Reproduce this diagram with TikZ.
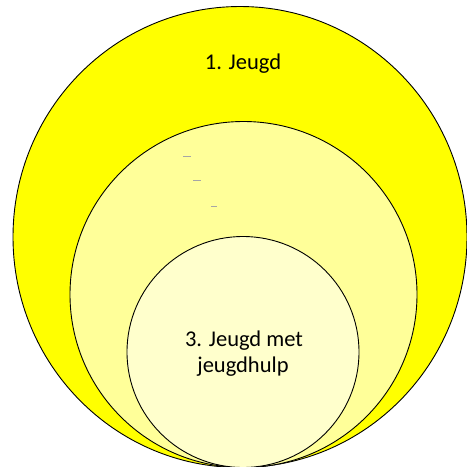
\documentclass[tikz,border=0pt]{standalone}
\usepackage{fontspec}
\setmainfont{Carlito}
\definecolor{outerY}{HTML}{FFFF00}
\definecolor{midY}{HTML}{FFFF99}
\definecolor{innerY}{HTML}{FFFFCC}
\begin{document}
\begin{tikzpicture}[x=1pt,y=-1pt,
  ring/.style={draw=black,line width=0.9pt},
  lbl/.style={inner sep=0pt,anchor=base,font=\fontsize{22.5}{26}\selectfont},
  speck/.style={draw=gray!70,line width=0.4pt}]
\useasboundingbox (0,0) rectangle (467,467);
\fill[white] (0,0) rectangle (467,467);
\begin{scope}
\clip (0,0) rectangle (467,467);
\path[ring,fill=outerY] (240,237) ellipse [x radius=227, y radius=230.5];
\path[ring,fill=midY] (243.5,294.5) ellipse [x radius=173.5, y radius=173];
\path[ring,fill=innerY] (243,352) ellipse [x radius=116, y radius=115.5];
\end{scope}
\draw[speck] (183,156) -- (191,156);
\draw[speck] (193,180) -- (201,180);
\draw[speck] (211,206) -- (217,206);
\node[lbl] (t1) at (243,69) {1. Jeugd};
\node[lbl] (t3a) at (244,346) {3. Jeugd met};
\node[lbl] (t3b) at (243,372) {jeugdhulp};
\end{tikzpicture}
\end{document}
